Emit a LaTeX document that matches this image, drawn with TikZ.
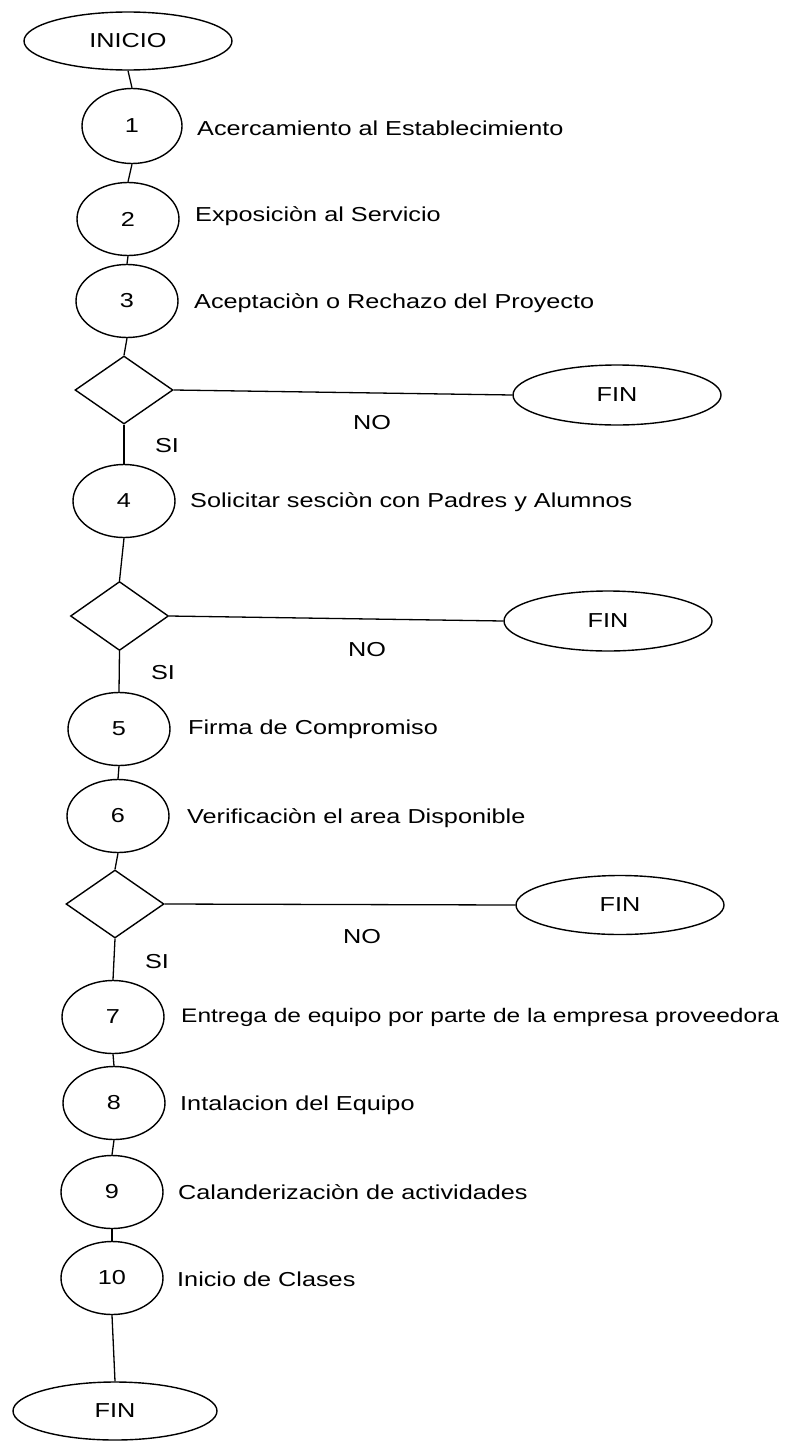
\documentclass[tikz,border=0pt]{standalone}
\usepackage{fontspec}
\setmainfont[FakeStretch=1.25]{Liberation Sans}
\usetikzlibrary{shapes.geometric}
\begin{document}
\begin{tikzpicture}[x=1pt,y=-1pt,
  every node/.style={font=\fontsize{20.2}{24}\selectfont},
  term/.style={draw,ellipse,line width=1.4pt,minimum width=208pt,minimum height=59pt,inner sep=0pt},
  stepc/.style={draw,ellipse,line width=1.4pt,minimum width=102pt,minimum height=73pt,inner sep=0pt},
  dec/.style={draw,diamond,line width=1.4pt,minimum width=98pt,minimum height=68pt,inner sep=0pt},
  lbl/.style={anchor=west,inner sep=0pt},
  conn/.style={line width=1.3pt}]
\useasboundingbox (0,0) rectangle (793,1448);
\node[term,minimum height=58pt] (ini) at (128,41) {INICIO};
\node[stepc,minimum height=75pt,minimum width=100pt] (c1) at (132,126) {1};
\node[stepc] (c2) at (128,219) {2};
\node[stepc] (c3) at (127,301) {3};
\node[dec] (d1) at (124,390) {};
\node[term,minimum height=60pt] (f1) at (617,395) {FIN};
\node[stepc] (c4) at (124,501) {4};
\node[dec,minimum height=69pt] (d2) at (119.5,616) {};
\node[term,minimum height=60pt] (f2) at (608,621) {FIN};
\node[stepc] (c5) at (119,729) {5};
\node[stepc] (c6) at (118,816) {6};
\node[dec] (d3) at (115,904) {};
\node[term] (f3) at (620,905) {FIN};
\node[stepc] (c7) at (113,1017) {7};
\node[stepc] (c8) at (114,1103) {8};
\node[stepc] (c9) at (112,1192) {9};
\node[stepc] (c10) at (112,1278) {10};
\node[term,minimum width=204pt,minimum height=58pt] (fin) at (115,1411) {FIN};

\node[lbl] (t1) at (197,128) {Acercamiento al Establecimiento};
\node[lbl] (t2) at (195,216) {Exposiciòn al Servicio};
\node[lbl] (t3) at (194,303) {Aceptaciòn o Rechazo del Proyecto};
\node[lbl] (t4) at (190,502) {Solicitar sesciòn con Padres y Alumnos};
\node[lbl] (t5) at (188,729) {Firma de Compromiso};
\node[lbl] (t6) at (187,818) {Verificaciòn el area Disponible};
\node[lbl,font=\fontsize{19.6}{24}\selectfont] (t7) at (181,1017) {Entrega de equipo por parte de la empresa proveedora};
\node[lbl] (t8) at (180,1105) {Intalacion del Equipo};
\node[lbl] (t9) at (178,1192) {Calanderizaciòn de actividades};
\node[lbl] (t10) at (177,1279) {Inicio de Clases};

\node (no1) at (372,423) {NO};
\node (si1) at (167,446) {SI};
\node (no2) at (367,650) {NO};
\node (si2) at (163,673) {SI};
\node (no3) at (362,937) {NO};
\node (si3) at (157,962) {SI};

\draw[conn] (ini.south) -- (c1.north);
\draw[conn] (c1.south) -- (c2.north);
\draw[conn] (c2.south) -- (c3.north);
\draw[conn] (c3.south) -- (d1.north);
\draw[conn] (d1.east) -- (f1.west);
\draw[conn] (d1.south) -- (c4.north);
\draw[conn] (c4.south) -- (d2.north);
\draw[conn] (d2.east) -- (f2.west);
\draw[conn] (d2.south) -- (c5.north);
\draw[conn] (c5.south) -- (c6.north);
\draw[conn] (c6.south) -- (d3.north);
\draw[conn] (d3.east) -- (f3.west);
\draw[conn] (d3.south) -- (c7.north);
\draw[conn] (c7.south) -- (c8.north);
\draw[conn] (c8.south) -- (c9.north);
\draw[conn] (c9.south) -- (c10.north);
\draw[conn] (c10.south) -- (fin.north);
\end{tikzpicture}
\end{document}
